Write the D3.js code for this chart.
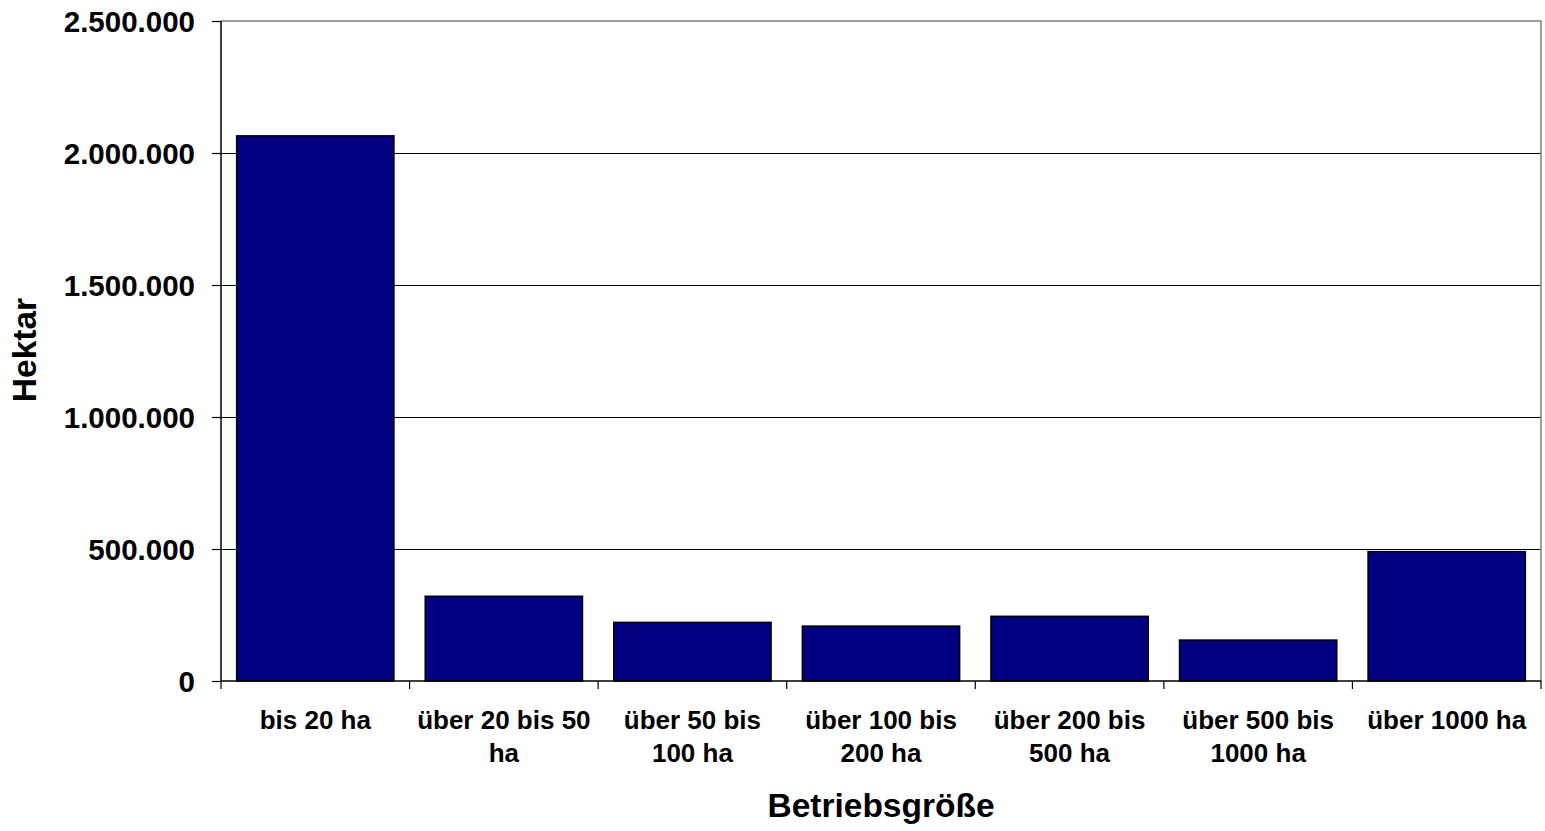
<!DOCTYPE html>
<html><head><meta charset="utf-8">
<script src="https://cdn.jsdelivr.net/npm/d3@7"></script>
<style>
html,body{margin:0;padding:0;background:#fff;}
svg{display:block;font-family:"Liberation Sans",Arial,sans-serif;font-weight:bold;}
</style></head>
<body><svg id="c" width="1545" height="831"></svg>
<script>
const categories = ["bis 20 ha","über 20 bis 50 ha","über 50 bis 100 ha","über 100 bis 200 ha","über 200 bis 500 ha","über 500 bis 1000 ha","über 1000 ha"];
const values = [2065000, 321000, 222000, 208000, 245000, 155000, 490000];
const yTicks = [0, 500000, 1000000, 1500000, 2000000, 2500000];
const yTitle = "Hektar";
const xTitle = "Betriebsgröße";

const svg = d3.select("#c");
const m = {left:221, right:1541, top:21, bottom:681};
const x = d3.scaleBand().domain(categories).range([m.left, m.right]).paddingInner(0.166).paddingOuter(0.083);
const y = d3.scaleLinear().domain([0, 2500000]).range([m.bottom, m.top]);
const fmt = v => d3.format(",")(v).replace(/,/g, ".");

// gridlines
svg.append("g").selectAll("line").data(yTicks.filter(t => t > 0 && t < 2500000)).join("line")
  .attr("x1", m.left).attr("x2", m.right).attr("y1", d => y(d)).attr("y2", d => y(d))
  .attr("stroke", "#000").attr("stroke-width", 1).attr("shape-rendering","crispEdges");
// plot border top/right
svg.append("path").attr("d", `M${m.left},${y(2500000)}H${m.right}V${m.bottom}`)
  .attr("fill","none").attr("stroke","#808080").attr("stroke-width",1.5);

// bars
svg.append("g").selectAll("rect").data(values).join("rect")
  .attr("x", (d,i) => x(categories[i])).attr("width", x.bandwidth())
  .attr("y", d => y(d)).attr("height", d => y(0) - y(d))
  .attr("fill", "#000080").attr("stroke", "#000").attr("stroke-width", 1.5);

// y axis
const ya = svg.append("g").attr("transform", `translate(${m.left},0)`)
  .call(d3.axisLeft(y).tickValues(yTicks).tickFormat(fmt).tickSize(9).tickPadding(17));
ya.select(".domain").attr("stroke","#000").attr("stroke-width",1.5).attr("d", `M0,${m.top}V${m.bottom}`);
ya.selectAll(".tick line").attr("stroke","#000").attr("stroke-width",1.2);
ya.selectAll(".tick text").attr("font-size", 29.5).attr("font-weight","bold").attr("fill","#000")
  .attr("font-family",'"Liberation Sans",Arial,sans-serif').attr("dy","0.36em");

// x axis
const xa = svg.append("g").attr("transform", `translate(0,${m.bottom})`)
  .call(d3.axisBottom(x).tickSize(0).tickFormat(""));
xa.select(".domain").attr("stroke","#000").attr("stroke-width",1.5).attr("d", `M${m.left},0H${m.right}`);
const step = x.step();
const bounds = d3.range(categories.length + 1).map(i => m.left + i * (m.right - m.left) / categories.length);
xa.append("g").selectAll("line").data(bounds).join("line")
  .attr("x1", d => d).attr("x2", d => d).attr("y1", 0).attr("y2", 8)
  .attr("stroke","#000").attr("stroke-width",1.2);

// x labels with wrapping
const lab = svg.append("g").attr("font-size", 26).attr("text-anchor","middle").attr("fill","#000");
categories.forEach(c => {
  const t = lab.append("text").attr("x", x(c) + x.bandwidth()/2).attr("y", 729);
  const words = c.split(" ");
  let line = [], lineNo = 0;
  let ts = t.append("tspan").attr("x", x(c) + x.bandwidth()/2).attr("dy", 0);
  words.forEach(w => {
    line.push(w);
    ts.text(line.join(" "));
    if (ts.node().getComputedTextLength() > 180 && line.length > 1) {
      line.pop(); ts.text(line.join(" "));
      line = [w]; lineNo++;
      ts = t.append("tspan").attr("x", x(c) + x.bandwidth()/2).attr("dy", 32.5).text(w);
    }
  });
});

// axis titles
svg.append("text").attr("x", (m.left + m.right)/2 + 0).attr("y", 817).attr("text-anchor","middle")
  .attr("font-size", 33.5).attr("fill","#000").text(xTitle);
svg.append("text").attr("transform", "translate(36,350) rotate(-90)").attr("text-anchor","middle")
  .attr("font-size", 33.5).attr("fill","#000").text(yTitle);
</script></body></html>
